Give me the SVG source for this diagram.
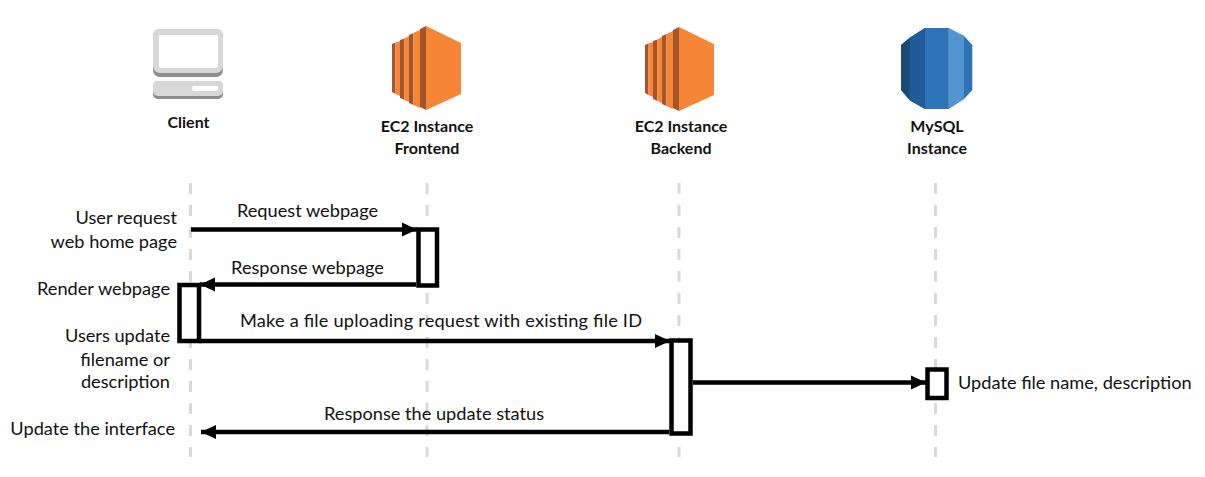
<svg xmlns="http://www.w3.org/2000/svg" width="1205" height="477" viewBox="0 0 1205 477">
<style>
text{font-family:"Lato","Liberation Sans",sans-serif;fill:#111}
.n{font-size:16px;font-weight:700;text-anchor:middle}
.m{font-size:18.200px}
.e{text-anchor:end}
.c{text-anchor:middle}
.life{stroke:#d9d9d9;stroke-width:3;stroke-dasharray:11 11;fill:none}
.act{fill:#fff;stroke:#000;stroke-width:4.500}
.msg{stroke:#000;stroke-width:4.500;fill:none;marker-end:url(#arrow)}
</style>
<defs>
<marker id="arrow" markerUnits="userSpaceOnUse" markerWidth="16" markerHeight="16" refX="15" refY="8" orient="auto"><path d="M0 1L15 8L0 15Z" fill="#000"/></marker>
<g id="ec2">
<path d="M0 18L3.500 16.500V68L0 66Z" fill="#a4562a"/><path d="M3.500 16.500L8 15V70L3.500 68Z" fill="#f68536"/>
<path d="M8 14L12.500 12.500V74L8 72Z" fill="#a4562a"/><path d="M12.500 12.500L17 10V76L12.500 74Z" fill="#f68536"/>
<path d="M17 9L21.500 7V79L17 77Z" fill="#a4562a"/><path d="M21.500 7L28 4V82L21.500 79Z" fill="#f68536"/>
<path d="M28 3L34 0V84L28 81Z" fill="#a4562a"/><path d="M34 0L69 17V68L34 84Z" fill="#f68536"/>
</g>
</defs>
<g id="lifelines">
<path class="life" d="M190.500 183V457"/>
<path class="life" d="M427 183V457"/>
<path class="life" d="M679 183V457"/>
<path class="life" d="M935.500 183V457"/>
</g>
<g id="node-client">
<rect x="153" y="29" width="70" height="48" rx="7" fill="#8c8c8c"/>
<rect x="153" y="29" width="70" height="44" rx="7" fill="#d7d7d7"/>
<rect x="159" y="35" width="59" height="33" rx="2" fill="#fff"/>
<rect x="153" y="81" width="70" height="18" rx="5" fill="#8c8c8c"/>
<rect x="153" y="81" width="70" height="15" rx="5" fill="#d7d7d7"/>
<rect x="192" y="86" width="26" height="5" rx="2" fill="#fff"/>
<text class="n" x="188.500" y="128">Client</text>
</g>
<g id="node-frontend">
<use href="#ec2" x="392" y="26"/>
<text class="n" x="427" y="132">EC2 Instance</text>
<text class="n" x="427" y="154">Frontend</text>
</g>
<g id="node-backend">
<use href="#ec2" x="645" y="27"/>
<text class="n" x="681" y="132">EC2 Instance</text>
<text class="n" x="681" y="154">Backend</text>
</g>
<g id="node-mysql">
<path d="M901 45L910 37.500L925 28H948.300L964 36L972.300 45V90L964 99L948.300 109H925L910 100.500L901 90Z" fill="#2e73b8"/>
<path d="M901 45L910 37.500V100.500L901 90Z" fill="#1a4c75"/>
<path d="M910 37.500L925 28V109L910 100.500Z" fill="#205b99"/>
<path d="M948.300 28L964 36V99L948.300 109Z" fill="#5294cf"/>
<text class="n" x="937" y="132">MySQL</text>
<text class="n" x="937" y="154">Instance</text>
</g>
<g id="activations">
<rect class="act" x="418.500" y="229.500" width="18.500" height="56"/>
<rect class="act" x="179.500" y="285" width="19.500" height="56"/>
<rect class="act" x="671.500" y="340.500" width="19" height="93"/>
<rect class="act" x="927.500" y="369.500" width="19" height="28.500"/>
</g>
<g id="connectors">
<path class="msg" d="M191 229.500H417"/>
<path class="msg" d="M416 284.500H200"/>
<path class="msg" d="M199 341H670"/>
<path class="msg" d="M693 382.500H926"/>
<path class="msg" d="M669 432H201"/>
</g>
<g id="labels">
<text class="m c" x="307.500" y="217">Request webpage</text>
<text class="m c" x="307.500" y="274">Response webpage</text>
<text class="m c" x="441" y="327" textLength="402">Make a file uploading request with existing file ID</text>
<text class="m c" x="434" y="420">Response the update status</text>
<text class="m e" x="177" y="224">User request</text>
<text class="m e" x="177" y="248">web home page</text>
<text class="m e" x="170" y="295">Render webpage</text>
<text class="m e" x="170" y="342">Users update</text>
<text class="m e" x="170" y="366">filename or</text>
<text class="m e" x="170" y="388">description</text>
<text class="m e" x="175" y="435">Update the interface</text>
<text class="m" x="958" y="389">Update file name, description</text>
</g>
</svg>
